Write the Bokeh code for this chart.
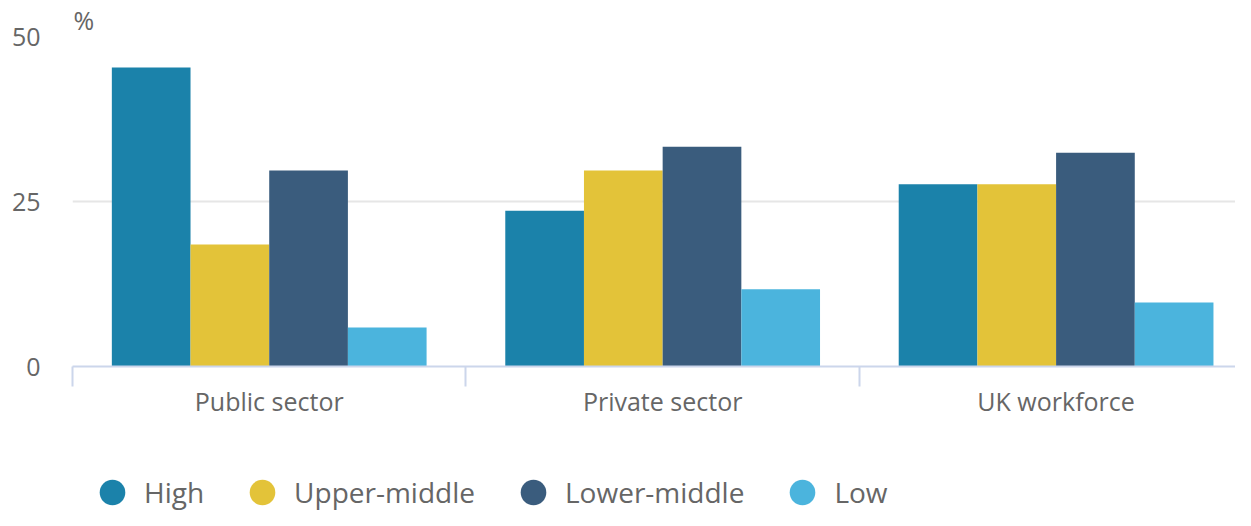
from bokeh.plotting import figure
from bokeh.layouts import column
from bokeh.models import (ColumnDataSource, Range1d, FixedTicker, Legend, LegendItem, Title)
from bokeh.embed import file_html
from bokeh.resources import INLINE

categories = ["Public sector", "Private sector", "UK workforce"]
series = ["High", "Upper-middle", "Lower-middle", "Low"]
high = [45.3, 23.6, 27.6]
upper_middle = [18.5, 29.7, 27.6]
lower_middle = [29.7, 33.3, 32.4]
low = [5.9, 11.7, 9.7]
y_ticks = [0, 25, 50]

colors = ["#1b82aa", "#e3c339", "#3a5c7d", "#4bb4dd"]
values_by_series = [high, upper_middle, lower_middle, low]
offsets = [-0.3, -0.1, 0.1, 0.3]
FONT = "Open Sans"
TXT = "#666666"

p = figure(width=1235, height=420, output_backend="svg", toolbar_location=None,
           x_range=Range1d(0, 2.956), y_range=Range1d(0, 50),
           min_border_left=72, min_border_top=36, min_border_bottom=54, min_border_right=0)
p.outline_line_color = None
p.xgrid.grid_line_color = None
p.ygrid.grid_line_color = "#e6e6e6"
p.ygrid.grid_line_width = 2

p.title = Title(text="%", align="left", offset=1, standoff=0, text_font=FONT,
                text_font_size="25px", text_font_style="normal", text_color=TXT)

# legend strip (separate figure so the legend is not clipped by the main frame)
lg = figure(width=1235, height=90, output_backend="svg", toolbar_location=None,
            x_axis_type=None, y_axis_type=None,
            min_border_left=0, min_border_right=0, min_border_top=0, min_border_bottom=0)
lg.outline_line_color = None
lg.grid.visible = False

legend_items = []
for name, vals, off, col in zip(series, values_by_series, offsets, colors):
    src = ColumnDataSource(dict(x=[i + 0.5 + off for i in range(len(categories))], top=vals))
    p.vbar(x="x", top="top", bottom=0, width=0.2, source=src, fill_color=col, line_color=None)
    dummy = lg.scatter(x="x", y="top", source=src, marker="circle",
                       fill_color=col, line_color=None, visible=False)
    legend_items.append(LegendItem(label=name, renderers=[dummy]))

# x axis
p.xaxis.ticker = FixedTicker(ticks=[i + 0.5 for i in range(len(categories))],
                             minor_ticks=list(range(len(categories) + 1)))
p.xaxis.major_label_overrides = {i + 0.5: c for i, c in enumerate(categories)}
p.xaxis.axis_line_color = "#ccd6eb"
p.xaxis.axis_line_width = 2
p.xaxis.major_tick_line_color = None
p.xaxis.major_tick_out = 0
p.xaxis.major_tick_in = 0
p.xaxis.minor_tick_line_color = "#ccd6eb"
p.xaxis.minor_tick_line_width = 2
p.xaxis.minor_tick_out = 20
p.xaxis.minor_tick_in = 0
p.xaxis.major_label_standoff = -3
p.xaxis.major_label_text_font = FONT
p.xaxis.major_label_text_font_size = "25px"
p.xaxis.major_label_text_color = TXT

# y axis
p.yaxis.ticker = FixedTicker(ticks=y_ticks)
p.yaxis.axis_line_color = None
p.yaxis.major_tick_line_color = None
p.yaxis.minor_tick_line_color = None
p.yaxis.major_tick_out = 0
p.yaxis.major_tick_in = 0
p.yaxis.major_label_standoff = 32
p.yaxis.major_label_text_font = FONT
p.yaxis.major_label_text_font_size = "25px"
p.yaxis.major_label_text_color = TXT

legend = Legend(items=legend_items, orientation="horizontal", location=(8, -14),
                glyph_width=64, glyph_height=64, label_standoff=0, spacing=26,
                padding=0, margin=0, border_line_color=None, background_fill_alpha=0,
                label_text_font=FONT, label_text_font_size="28px", label_text_color=TXT,
                label_text_baseline="middle")
lg.add_layout(legend, "center")

open("out.html", "w").write(file_html(column(p, lg, spacing=0), INLINE))
